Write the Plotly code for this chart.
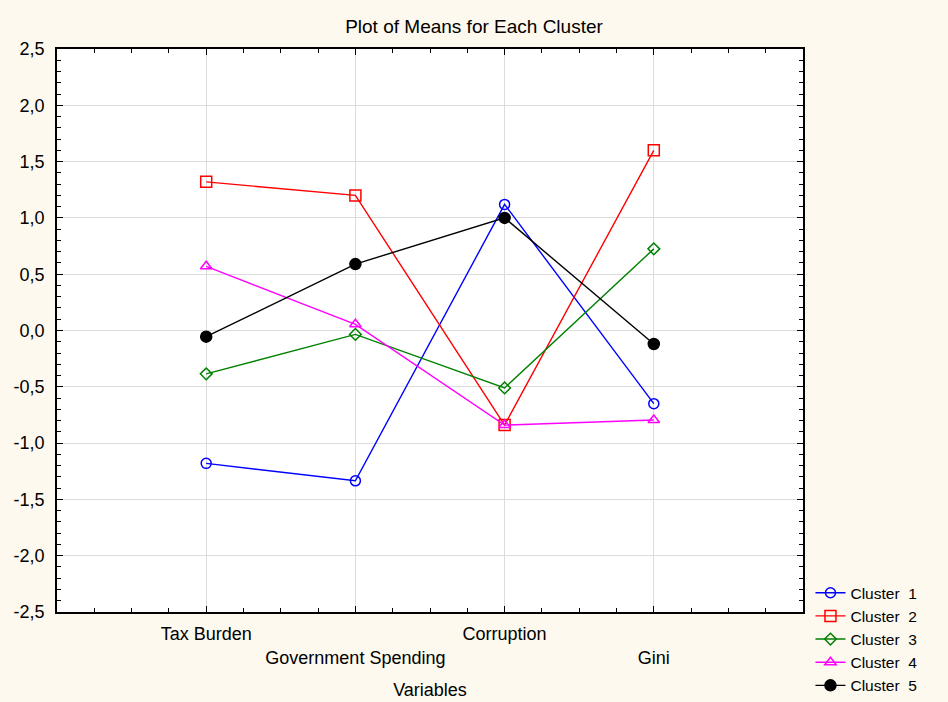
import plotly.graph_objects as go

# Variables on the x axis (category positions 1..4)
variables = ["Tax Burden", "Government Spending", "Corruption", "Gini"]
var_pos = [1, 2, 3, 4]
# alternate labels drop to a second line so long names don't collide
var_ticktext = ["Tax Burden", "<br>Government Spending", "Corruption", "<br>Gini"]

# Cluster means per variable
cluster_1 = [-1.18, -1.335, 1.12, -0.65]
cluster_2 = [1.32, 1.20, -0.84, 1.60]
cluster_3 = [-0.385, -0.035, -0.51, 0.725]
cluster_4 = [0.57, 0.055, -0.84, -0.795]
cluster_5 = [-0.055, 0.59, 1.00, -0.12]

cluster_names = ["Cluster\u00a0 1", "Cluster\u00a0 2", "Cluster\u00a0 3",
                 "Cluster\u00a0 4", "Cluster\u00a0 5"]

# y-axis ticks with comma decimals and ascii hyphen minus
y_tickvals = [-2.5, -2.0, -1.5, -1.0, -0.5, 0.0, 0.5, 1.0, 1.5, 2.0, 2.5]
y_ticktext = ["-2,5", "-2,0", "-1,5", "-1,0", "-0,5", "0,0",
              "0,5", "1,0", "1,5", "2,0", "2,5"]

series = [cluster_1, cluster_2, cluster_3, cluster_4, cluster_5]
colors = ["#0000FF", "#FF0000", "#008000", "#FF00FF", "#000000"]
symbols = ["circle-open", "square-open", "diamond-open", "triangle-up-open", "circle"]
sizes = [10, 11, 9, 10, 11]

FONT = "Arial, Liberation Sans, sans-serif"

fig = go.Figure()
for name, vals, col, sym, sz in zip(cluster_names, series, colors, symbols, sizes):
    fig.add_trace(go.Scatter(
        x=var_pos, y=vals, name=name, mode="lines+markers",
        line=dict(color=col, width=1.4),
        marker=dict(symbol=sym, size=sz, color=col, line=dict(color=col, width=1.5)),
    ))

axis_common = dict(
    showline=True, linecolor="black", linewidth=1.5, mirror="allticks",
    ticks="inside", ticklen=6, tickcolor="black", tickwidth=1,
    gridcolor="#dcdcdc", gridwidth=1, zeroline=False, automargin=False,
    tickfont=dict(family=FONT, size=18, color="black"),
)

fig.update_xaxes(
    **axis_common,
    range=[0, 5], tickmode="array", tickvals=var_pos, ticktext=var_ticktext,
    ticklabelstandoff=5,
    minor=dict(ticks="inside", ticklen=4, dtick=0.25, tick0=0, tickcolor="black",
               showgrid=False),
    title=dict(text="Variables", font=dict(family=FONT, size=18, color="black"),
               standoff=17),
)
fig.update_yaxes(
    **axis_common,
    range=[-2.5, 2.5], tickmode="array", tickvals=y_tickvals, ticktext=y_ticktext,
    ticklabelstandoff=7,
    minor=dict(ticks="inside", ticklen=4, dtick=0.1, tick0=0, tickcolor="black",
               showgrid=False),
)

fig.update_layout(
    width=948, height=702,
    margin=dict(l=57, r=145, t=49, b=90, autoexpand=False),
    paper_bgcolor="#FDF9EE", plot_bgcolor="white",
    font=dict(family=FONT, size=18, color="black"),
    title=dict(text="Plot of Means for Each Cluster", x=0.5, xref="container",
               xanchor="center", y=1 - 26 / 702, yref="container", yanchor="middle",
               font=dict(family=FONT, size=19, color="black")),
    showlegend=True,
    legend=dict(x=1.010, xanchor="left", y=0.0636, yanchor="top",
                bgcolor="rgba(0,0,0,0)", font=dict(family=FONT, size=15.5, color="black"),
                tracegroupgap=0, itemwidth=30),
)

fig.write_html("out.html")
